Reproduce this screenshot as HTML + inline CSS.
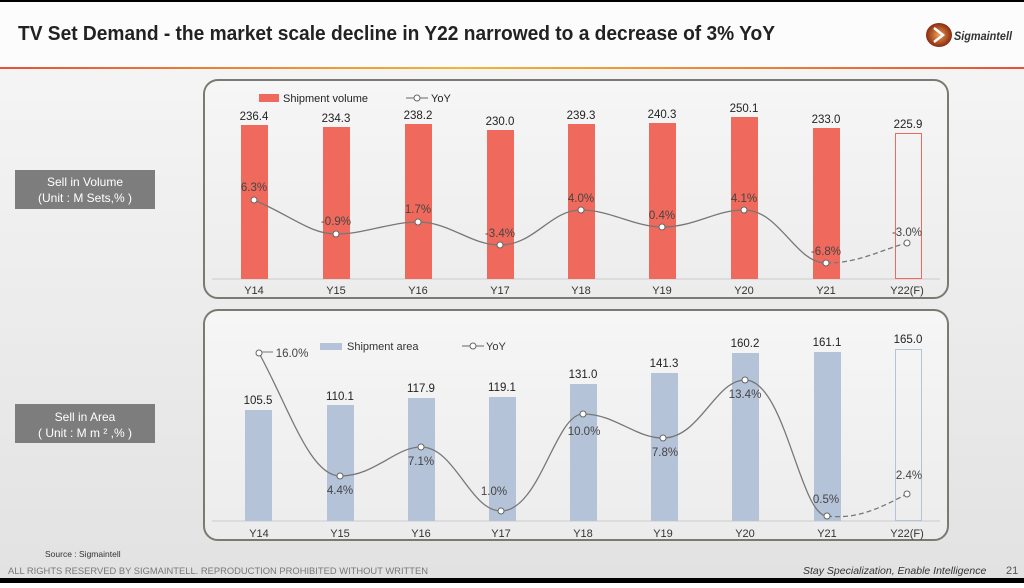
<!DOCTYPE html>
<html><head><meta charset="utf-8"><style>
body{margin:0;width:1024px;height:583px;overflow:hidden;font-family:"Liberation Sans",sans-serif;}
</style></head><body>
<svg width="1024" height="583" xmlns="http://www.w3.org/2000/svg" font-family="Liberation Sans, sans-serif">
<defs>
<linearGradient id="bg" x1="0" y1="0" x2="0" y2="1"><stop offset="0" stop-color="#f7f7f7"/><stop offset="1" stop-color="#e2e2e2"/></linearGradient>
<linearGradient id="hl" x1="0" y1="0" x2="1" y2="0"><stop offset="0" stop-color="#e8503a"/><stop offset="0.45" stop-color="#f2b632"/><stop offset="1" stop-color="#e8503a"/></linearGradient>
<linearGradient id="pn" x1="0" y1="0" x2="0" y2="1"><stop offset="0" stop-color="#f6f6f6"/><stop offset="1" stop-color="#ececec"/></linearGradient>
<radialGradient id="lg"><stop offset="0" stop-color="#f0a050"/><stop offset="1" stop-color="#8a2a10"/></radialGradient>
</defs>
<rect width="1024" height="583" fill="url(#bg)"/>
<rect width="1024" height="68" fill="#fcfcfc"/>
<rect width="1024" height="2" fill="#000"/>
<rect y="67" width="1024" height="2" fill="url(#hl)"/>
<text x="18" y="40" font-size="20" font-weight="bold" fill="#222" textLength="757" lengthAdjust="spacingAndGlyphs">TV Set Demand - the market scale decline in Y22 narrowed to a decrease of 3% YoY</text>
<ellipse cx="939" cy="35" rx="13" ry="12" fill="url(#lg)"/>
<path d="M934 28 L943 35 L934 42" stroke="#fff" stroke-width="2.5" fill="none"/>
<text x="954" y="40" font-size="12" font-style="italic" font-weight="bold" fill="#333" textLength="58" lengthAdjust="spacingAndGlyphs">Sigmaintell</text>

<rect x="15" y="170" width="140" height="39" fill="#7d7d7d"/>
<text x="85" y="186" font-size="12" fill="#fff" text-anchor="middle">Sell in Volume</text>
<text x="85" y="202" font-size="12" fill="#fff" text-anchor="middle">(Unit : M Sets,% )</text>
<rect x="15" y="404" width="140" height="39" fill="#7d7d7d"/>
<text x="85" y="421" font-size="12" fill="#fff" text-anchor="middle">Sell in Area</text>
<text x="85" y="437" font-size="12" fill="#fff" text-anchor="middle">( Unit : M m ² ,% )</text>

<rect x="204" y="80" width="744" height="218" rx="14" fill="url(#pn)" stroke="#7a7a72" stroke-width="2"/>
<rect x="204" y="310" width="744" height="230" rx="14" fill="url(#pn)" stroke="#7a7a72" stroke-width="2"/>

<!-- top chart -->
<rect x="259" y="94" width="20" height="8" fill="#ef6a5c"/>
<text x="283" y="102" font-size="11" fill="#222">Shipment volume</text>
<line x1="406" y1="98" x2="428" y2="98" stroke="#666"/><circle cx="417" cy="98" r="3" fill="#fff" stroke="#666"/>
<text x="431" y="102" font-size="11" fill="#222">YoY</text>
<line x1="212" y1="279" x2="940" y2="279" stroke="#ccc"/>
<g fill="#ef6a5c">
<rect x="241" y="125" width="27" height="154"/><rect x="323" y="127" width="27" height="152"/>
<rect x="405" y="124" width="27" height="155"/><rect x="487" y="130" width="27" height="149"/>
<rect x="568" y="124" width="27" height="155"/><rect x="649" y="123" width="27" height="156"/>
<rect x="731" y="117" width="27" height="162"/><rect x="813" y="128" width="27" height="151"/>
</g>
<rect x="895.5" y="133.5" width="26" height="145" fill="none" stroke="#ef6a5c"/>
<g font-size="11.5" fill="#222" text-anchor="middle">
<text x="254" y="120">236.4</text><text x="336" y="122">234.3</text><text x="418" y="119">238.2</text>
<text x="500" y="125">230.0</text><text x="581" y="119">239.3</text><text x="662" y="118">240.3</text>
<text x="744" y="112">250.1</text><text x="826" y="123">233.0</text><text x="908" y="128">225.9</text>
</g>
<path d="M254 200 C290 215,310 234,336 234 C365 234,390 222,418 222 C450 222,470 245,500 245 C535 245,550 210,581 210 C610 210,635 227,662 227 C695 227,715 210,744 210 C780 210,795 263,826 263" fill="none" stroke="#777" stroke-width="1.3"/>
<path d="M826 263 C860 263,880 250,907 243" fill="none" stroke="#777" stroke-width="1.3" stroke-dasharray="5,3"/>
<g fill="#fff" stroke="#666"><circle cx="254" cy="200" r="3"/><circle cx="336" cy="234" r="3"/><circle cx="418" cy="222" r="3"/><circle cx="500" cy="245" r="3"/><circle cx="581" cy="210" r="3"/><circle cx="662" cy="227" r="3"/><circle cx="744" cy="210" r="3"/><circle cx="826" cy="263" r="3"/><circle cx="907" cy="243" r="3"/></g>
<g font-size="11.5" fill="#444" text-anchor="middle">
<text x="254" y="191">6.3%</text><text x="336" y="225">-0.9%</text><text x="418" y="213">1.7%</text>
<text x="500" y="237">-3.4%</text><text x="581" y="202">4.0%</text><text x="662" y="219">0.4%</text>
<text x="744" y="202">4.1%</text><text x="826" y="255">-6.8%</text><text x="907" y="236">-3.0%</text>
</g>
<g font-size="11" fill="#333" text-anchor="middle">
<text x="254" y="294">Y14</text><text x="336" y="294">Y15</text><text x="418" y="294">Y16</text><text x="500" y="294">Y17</text><text x="581" y="294">Y18</text><text x="662" y="294">Y19</text><text x="744" y="294">Y20</text><text x="826" y="294">Y21</text><text x="907" y="294">Y22(F)</text>
</g>

<!-- bottom chart -->
<rect x="320" y="343" width="22" height="7" fill="#b5c3d9"/>
<text x="347" y="350" font-size="11" fill="#333">Shipment area</text>
<line x1="462" y1="346" x2="484" y2="346" stroke="#666"/><circle cx="473" cy="346" r="3" fill="#fff" stroke="#666"/>
<text x="486" y="350" font-size="11" fill="#333">YoY</text>
<line x1="212" y1="521" x2="940" y2="521" stroke="#ccc"/>
<g fill="#b5c3d9">
<rect x="245" y="410" width="27" height="111"/><rect x="327" y="405" width="27" height="116"/>
<rect x="408" y="398" width="27" height="123"/><rect x="489" y="397" width="27" height="124"/>
<rect x="570" y="384" width="27" height="137"/><rect x="651" y="373" width="27" height="148"/>
<rect x="732" y="353" width="27" height="168"/><rect x="814" y="352" width="27" height="169"/>
</g>
<rect x="895.5" y="349.5" width="26" height="171" fill="none" stroke="#b5c3d9"/>
<g font-size="11.5" fill="#222" text-anchor="middle">
<text x="258" y="404">105.5</text><text x="340" y="400">110.1</text><text x="421" y="392">117.9</text>
<text x="502" y="391">119.1</text><text x="583" y="378">131.0</text><text x="664" y="367">141.3</text>
<text x="745" y="347">160.2</text><text x="827" y="346">161.1</text><text x="908" y="343">165.0</text>
</g>
<path d="M259 353 C290 410,310 476,340 476 C375 476,395 447,421 447 C455 447,470 511,501 511 C540 511,555 414,583 414 C615 414,635 438,663 438 C700 438,715 380,745 380 C785 380,800 516,827 516" fill="none" stroke="#777" stroke-width="1.3"/>
<path d="M827 516 C860 520,885 505,907 494" fill="none" stroke="#777" stroke-width="1.3" stroke-dasharray="5,3"/>
<line x1="262" y1="352" x2="273" y2="352" stroke="#777"/>
<g fill="#fff" stroke="#666"><circle cx="259" cy="353" r="3"/><circle cx="340" cy="476" r="3"/><circle cx="421" cy="447" r="3"/><circle cx="501" cy="511" r="3"/><circle cx="583" cy="414" r="3"/><circle cx="663" cy="438" r="3"/><circle cx="745" cy="380" r="3"/><circle cx="827" cy="516" r="3"/><circle cx="907" cy="494" r="3"/></g>
<g font-size="11.5" fill="#444" text-anchor="middle">
<text x="292" y="357">16.0%</text><text x="340" y="494">4.4%</text><text x="421" y="465">7.1%</text>
<text x="494" y="495">1.0%</text><text x="584" y="435">10.0%</text><text x="665" y="456">7.8%</text>
<text x="745" y="398">13.4%</text><text x="826" y="503">0.5%</text><text x="909" y="479">2.4%</text>
</g>
<g font-size="11" fill="#333" text-anchor="middle">
<text x="259" y="537">Y14</text><text x="340" y="537">Y15</text><text x="421" y="537">Y16</text><text x="501" y="537">Y17</text><text x="583" y="537">Y18</text><text x="663" y="537">Y19</text><text x="745" y="537">Y20</text><text x="827" y="537">Y21</text><text x="907" y="537">Y22(F)</text>
</g>

<text x="45" y="557" font-size="8.5" fill="#333">Source : Sigmaintell</text>
<text x="8" y="574" font-size="9.5" fill="#777" textLength="420" lengthAdjust="spacingAndGlyphs">ALL RIGHTS RESERVED BY SIGMAINTELL. REPRODUCTION PROHIBITED WITHOUT WRITTEN</text>
<text x="803" y="574" font-size="10.5" font-style="italic" fill="#333">Stay Specialization, Enable Intelligence</text>
<text x="1006" y="574" font-size="11" fill="#555">21</text>
<rect y="578" width="1024" height="5" fill="#000"/>
</svg>
</body></html>
